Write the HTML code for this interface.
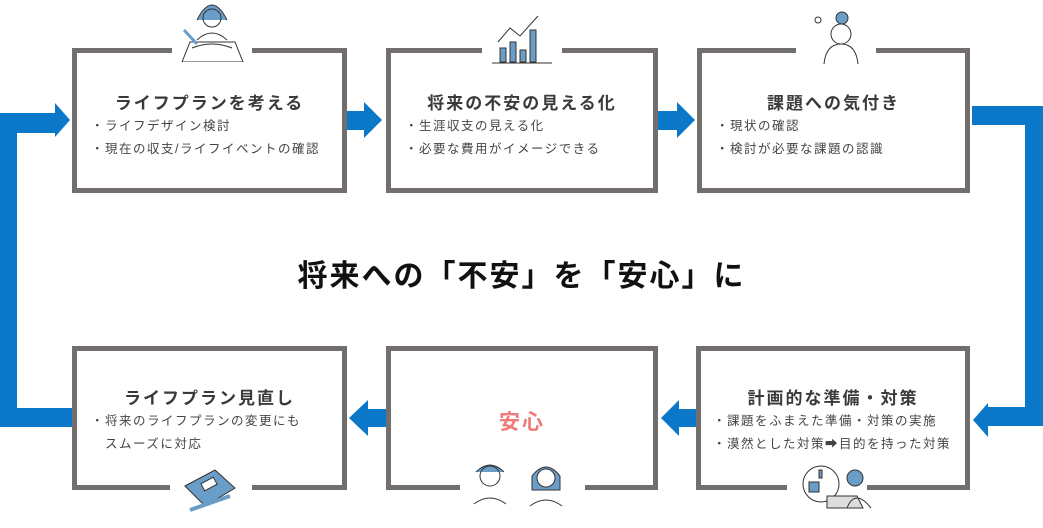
<!DOCTYPE html>
<html><head><meta charset="utf-8"><style>
body{margin:0;width:1043px;height:528px;background:#fff;position:relative;overflow:hidden;font-family:"Liberation Sans","Noto Sans CJK JP",sans-serif;color:#333}
.box{position:absolute;border:5px solid #726e6e;background:#fff;box-sizing:border-box}
.t{position:absolute;left:0;right:0;text-align:center;font-weight:bold;font-size:17px;color:#3a3a3a;letter-spacing:2px}
.l{position:absolute;font-size:12.5px;color:#444;letter-spacing:1.5px;line-height:23px;white-space:nowrap}
.gap{position:absolute;background:#fff;height:6px}
.b{position:absolute;background:#0a77c8}
svg{position:absolute}
</style></head><body>
<div class="b" style="left:0;top:113px;width:17px;height:314px"></div>
<div class="b" style="left:0;top:113px;width:56px;height:20px"></div>
<div class="b" style="left:0;top:408px;width:72px;height:19px"></div>
<div class="b" style="left:972px;top:106px;width:71px;height:19px"></div>
<div class="b" style="left:1025px;top:106px;width:18px;height:320px"></div>
<div class="b" style="left:988px;top:407px;width:55px;height:19px"></div>
<svg width="1043" height="528" style="left:0;top:0">
<g fill="#0a77c8">
<polygon points="55,103 70,120 55,137"/>
<polygon points="988,403 973,420 988,437"/>
<rect x="347" y="111" width="20" height="19"/><polygon points="364,102 382,120 364,138"/>
<rect x="658" y="111" width="22" height="19"/><polygon points="677,102 695,120 677,138"/>
<rect x="677" y="409" width="20" height="18"/><polygon points="679,400 661,418 679,436"/>
<rect x="366" y="409" width="20" height="18"/><polygon points="368,400 349,418 368,436"/>
</g></svg>
<div class="box" style="left:72px;top:48px;width:275px;height:145px"><div class="t" style="top:36px">ライフプランを考える</div>
<div class="l" style="left:14px;top:62px">・ライフデザイン検討<br>・現在の収支/ライフイベントの確認</div></div>
<div class="gap" style="left:172px;top:48px;width:80px"></div>
<div class="box" style="left:386px;top:48px;width:272px;height:145px"><div class="t" style="top:36px">将来の不安の見える化</div>
<div class="l" style="left:14px;top:62px">・生涯収支の見える化<br>・必要な費用がイメージできる</div></div>
<div class="gap" style="left:482px;top:48px;width:80px"></div>
<div class="box" style="left:697px;top:48px;width:273px;height:145px"><div class="t" style="top:36px">課題への気付き</div>
<div class="l" style="left:14px;top:62px">・現状の確認<br>・検討が必要な課題の認識</div></div>
<div class="gap" style="left:796px;top:48px;width:80px"></div>
<div class="box" style="left:72px;top:346px;width:275px;height:144px"><div class="t" style="top:33px">ライフプラン見直し</div>
<div class="l" style="left:14px;top:59px">・将来のライフプランの変更にも<br>　スムーズに対応</div></div>
<div class="gap" style="left:170px;top:484px;width:82px"></div>
<div class="box" style="left:386px;top:346px;width:272px;height:144px"><div class="t" style="top:55px;font-size:21px;color:#f07a7a">安心</div></div>
<div class="gap" style="left:460px;top:484px;width:125px"></div>
<div class="box" style="left:696px;top:346px;width:274px;height:144px"><div class="t" style="top:33px">計画的な準備・対策</div>
<div class="l" style="left:12px;top:59px">・課題をふまえた準備・対策の実施<br>・漠然とした対策➡目的を持った対策</div></div>
<div class="gap" style="left:787px;top:484px;width:80px"></div>
<div style="position:absolute;left:0;width:1043px;top:251px;text-align:center;font-size:30px;font-weight:bold;color:#111;letter-spacing:2px">将来への「不安」を「安心」に</div>
<svg width="80" height="62" style="left:172px;top:0" fill="none" stroke="#333" stroke-width="1">
<path d="M25 20 q15-30 30 0" fill="#6a9dc8"/><circle cx="40" cy="18" r="9"/><path d="M25 40 q15-14 30 0"/>
<path d="M10 62 l8-20 h45 l8 20z"/><path d="M20 48 q20-8 40 0"/><line x1="12" y1="30" x2="25" y2="44" stroke="#6a9dc8" stroke-width="3"/></svg>
<svg width="60" height="62" style="left:492px;top:12px" fill="#6a9dc8" stroke="#333" stroke-width="1">
<rect x="8" y="36" width="6" height="14"/><rect x="18" y="30" width="6" height="20"/><rect x="28" y="38" width="6" height="12"/><rect x="38" y="18" width="6" height="32"/>
<path d="M6 30 l12-14 10 8 18-20" fill="none"/><line x1="0" y1="51" x2="60" y2="51"/></svg>
<svg width="60" height="62" style="left:808px;top:8px" fill="none" stroke="#333" stroke-width="1">
<circle cx="34" cy="10" r="6" fill="#6a9dc8"/><circle cx="33" cy="26" r="10"/><path d="M16 56 q2-20 17-20 q15 0 17 20"/><circle cx="10" cy="12" r="3"/></svg>
<svg width="70" height="48" style="left:180px;top:466px" stroke="#333" stroke-width="1">
<polygon points="5,20 35,4 55,22 25,40" fill="#6a9dc8"/><rect x="22" y="14" width="14" height="8" fill="#fff" transform="rotate(-28 29 18)"/>
<line x1="10" y1="44" x2="50" y2="30" stroke-width="4" stroke="#6a9dc8"/></svg>
<svg width="110" height="48" style="left:470px;top:460px" fill="none" stroke="#333" stroke-width="1">
<path d="M6 12 q14-14 28 0" fill="#6a9dc8"/><circle cx="20" cy="16" r="10"/><path d="M4 44 q16-12 32 0"/>
<path d="M62 16 q14-18 28 0 v14 h-28z" fill="#6a9dc8"/><circle cx="76" cy="18" r="9" fill="#fff"/><path d="M60 46 q16-12 32 0"/></svg>
<svg width="80" height="50" style="left:797px;top:464px" fill="none" stroke="#333" stroke-width="1">
<circle cx="24" cy="20" r="18"/><rect x="12" y="18" width="10" height="10" fill="#6a9dc8"/><rect x="22" y="6" width="3" height="8" fill="#6a9dc8"/>
<circle cx="58" cy="14" r="8" fill="#6a9dc8"/><path d="M30 32 h30 l6 12 h-36z" fill="#ddd"/><path d="M50 44 q8-20 24 0"/></svg>
</body></html>
